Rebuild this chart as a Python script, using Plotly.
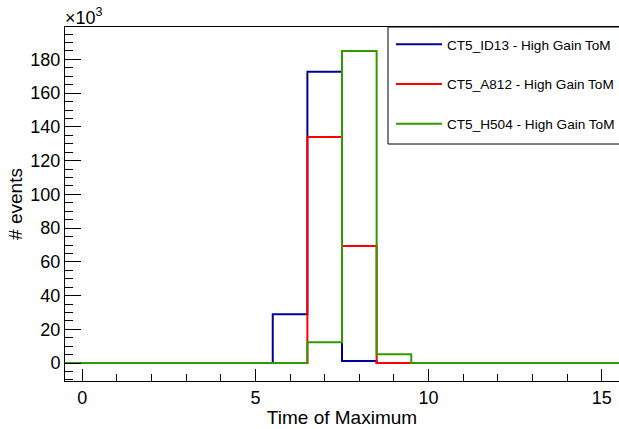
import plotly.graph_objects as go

# Histogram: bins centred on integers 0..15 (width 1), counts in units of 10^3
bin_centers = list(range(0, 16))
id13_k = [0, 0, 0, 0, 0, 0, 29.0, 172.7, 1.2, 0, 0, 0, 0, 0, 0, 0]
a812_k = [0, 0, 0, 0, 0, 0, 0, 134.0, 69.4, 0, 0, 0, 0, 0, 0, 0]
h504_k = [0, 0, 0, 0, 0, 0, 0, 12.4, 185.0, 5.3, 0, 0, 0, 0, 0, 0]

names = ["CT5_ID13 - High Gain ToM", "CT5_A812 - High Gain ToM", "CT5_H504 - High Gain ToM"]
colors = ["#000099", "#ff0000", "#339900"]
series = [id13_k, a812_k, h504_k]

y_ticks = [0, 20, 40, 60, 80, 100, 120, 140, 160, 180]
x_ticks = [0, 5, 10, 15]

FONT = "Liberation Sans, Arial, Helvetica, sans-serif"

fig = go.Figure()
for i, (name, col, vals) in enumerate(zip(names, colors, series)):
    edges = [c - 0.5 for c in bin_centers] + [bin_centers[-1] + 0.5]
    yv = list(vals) + [vals[-1]]
    fig.add_trace(go.Scatter(
        x=edges, y=yv, mode="lines", line=dict(color=col, width=2, shape="hv"),
        name=name, legendgroup=str(i), cliponaxis=True,
    ))

PW, PH = 554, 354  # plot area size in px
fig.update_layout(
    width=619, height=429,
    margin=dict(l=65, r=0, t=27, b=48, autoexpand=False),
    paper_bgcolor="white", plot_bgcolor="white",
    font=dict(family=FONT, color="black"),
    showlegend=True,
    legend=dict(
        x=(391 - 65) / PW, y=1 - 2 / PH, xanchor="left", yanchor="top",
        borderwidth=0, bgcolor="rgba(0,0,0,0)",
        font=dict(size=13.6, family=FONT), tracegroupgap=19,
        itemwidth=46,
    ),
    xaxis=dict(
        range=[-0.5, 15.5], showgrid=False, zeroline=False, automargin=False,
        showline=True, linecolor="black", linewidth=1, mirror=True,
        ticks="inside", ticklen=12, tickcolor="black",
        tickvals=x_ticks, tickfont=dict(size=18),
        minor=dict(ticks="inside", ticklen=7, dtick=1, tickcolor="black", showgrid=False),
        title=dict(text="Time of Maximum", font=dict(size=19), standoff=4),
    ),
    yaxis=dict(
        range=[-10.6, 199.2], showgrid=False, zeroline=False, automargin=False,
        showline=True, linecolor="black", linewidth=1,
        ticks="inside", ticklen=16, tickcolor="black",
        tickvals=y_ticks, tickfont=dict(size=18),
        minor=dict(ticks="inside", ticklen=8, dtick=5, tickcolor="black", showgrid=False),
        title=dict(text="# events", font=dict(size=19), standoff=2),
    ),
)

# legend frame (extends past the right edge like the original)
fig.add_shape(
    type="rect", xref="paper", yref="paper",
    x0=(388 - 65) / PW, x1=1.05, y0=(381 - 144) / PH, y1=1,
    line=dict(color="black", width=1), fillcolor="white", layer="above",
)

fig.add_annotation(
    xref="paper", yref="paper", x=0, y=1, xanchor="left", yanchor="bottom",
    text="×10<sup>3</sup>", showarrow=False, font=dict(size=18, family=FONT),
    xshift=-2, yshift=-3,
)

fig.write_html(
    "out.html",
    config={"displayModeBar": False},
    post_script="document.body.style.margin='0';document.body.style.overflow='hidden';",
)
